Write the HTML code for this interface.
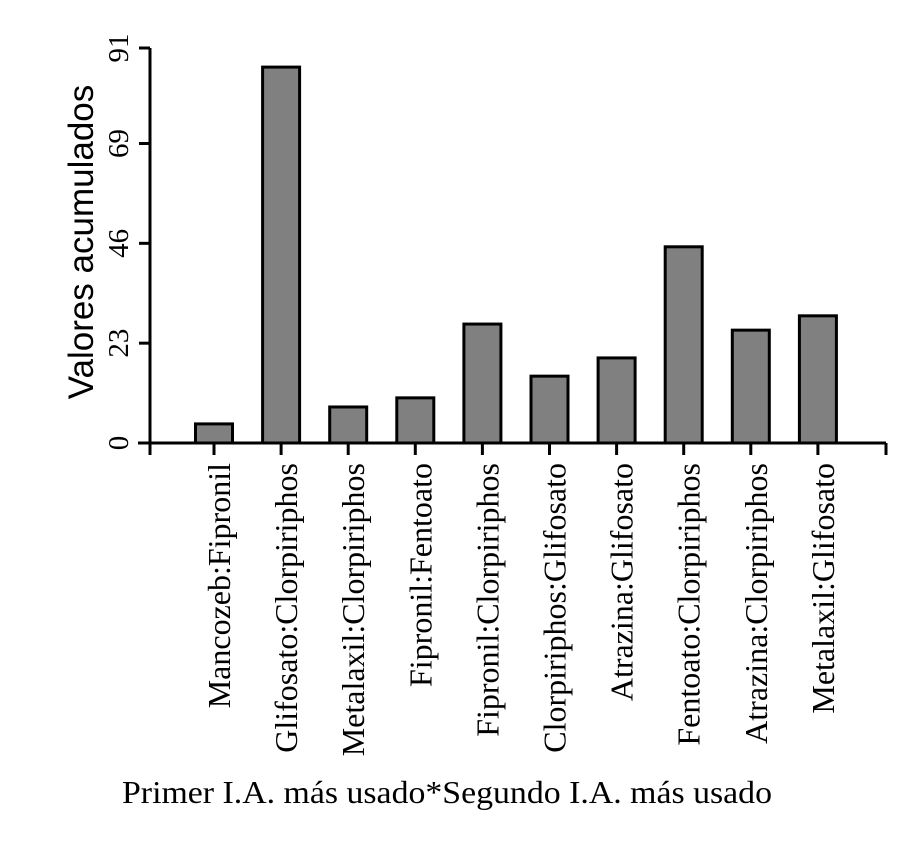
<!DOCTYPE html>
<html><head><meta charset="utf-8"><style>body{margin:0;background:#fff}svg{display:block}</style></head>
<body>
<svg id="c" width="922" height="850" xmlns="http://www.w3.org/2000/svg"></svg>
<script>
const categories=["Mancozeb:Fipronil","Glifosato:Clorpiriphos","Metalaxil:Clorpiriphos","Fipronil:Fentoato","Fipronil:Clorpiriphos","Clorpiriphos:Glifosato","Atrazina:Glifosato","Fentoato:Clorpiriphos","Atrazina:Clorpiriphos","Metalaxil:Glifosato"];
const values=[4.4,86.6,8.3,10.4,27.4,15.4,19.6,45.2,26,29.3];
const yTicks=[0,23,46,69,91];
const svg=document.getElementById('c');
const NS='http://www.w3.org/2000/svg';
const y0=443,y1=48,yMax=91;
const yS=v=>y0-(v/yMax)*(y0-y1);
const xS=i=>214+67.1*i;
function mk(t,a,p){const e=document.createElementNS(NS,t);for(const k in a)e.setAttribute(k,a[k]);(p||svg).appendChild(e);return e;}
let ya=mk('line',{x1:150,y1:y1,x2:150,y2:y0,stroke:'#000','stroke-width':3});


let xa=mk('line',{x1:138,y1:y0,x2:886,y2:y0,stroke:'#000','stroke-width':3});


yTicks.forEach(v=>{
  const t=mk('line',{x1:139,y1:yS(v),x2:150,y2:yS(v),stroke:'#000','stroke-width':3});
  
  
  const l=mk('text',{x:0,y:0,transform:`translate(128,${yS(v)}) rotate(-90)`,'text-anchor':'middle','font-family':'Liberation Serif, serif','font-size':29});
  l.textContent=v;
  
  
});
[150,886].forEach(x=>{
  const t=mk('line',{x1:x,y1:y0,x2:x,y2:455,stroke:'#000','stroke-width':3});
  
  
});
categories.forEach((c,i)=>{
  const cx=xS(i);
  const b=mk('rect',{x:cx-18.5,y:yS(values[i]),width:37,height:y0-yS(values[i]),fill:'#808080',stroke:'#000','stroke-width':3});
  
  
  const t=mk('line',{x1:cx,y1:y0,x2:cx,y2:455,stroke:'#000','stroke-width':3});
  
  
  const l=mk('text',{x:0,y:0,transform:`translate(${cx+16},463) rotate(-90)`,'text-anchor':'end','font-family':'Liberation Serif, serif','font-size':32});
  l.textContent=c;
  
  
});
const yt=mk('text',{x:0,y:0,transform:'translate(93,242) rotate(-90)','text-anchor':'middle','font-family':'Liberation Sans, sans-serif','font-size':35});
yt.textContent='Valores acumulados';


const xt=mk('text',{x:447,y:803,'text-anchor':'middle','font-family':'Liberation Serif, serif','font-size':32,textLength:650,lengthAdjust:'spacingAndGlyphs'});
xt.textContent='Primer I.A. más usado*Segundo I.A. más usado';


</script>
</body></html>
